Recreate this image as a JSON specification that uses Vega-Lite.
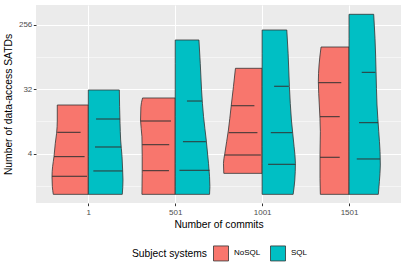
{
  "$schema": "https://vega.github.io/schema/vega-lite/v6.json",
  "width": 365,
  "height": 198,
  "autosize": "none",
  "padding": {"left": 36, "top": 5, "right": 6, "bottom": 68},
  "background": "white",
  "config": {
    "view": {"fill": "#EBEBEB", "stroke": null},
    "font": "Liberation Sans",
    "axis": {
      "domain": false,
      "labelFont": "Liberation Sans",
      "labelFontSize": 8,
      "labelColor": "#4D4D4D",
      "titleFont": "Liberation Sans",
      "titleFontSize": 10.3,
      "titleFontWeight": "normal",
      "titleColor": "#000000",
      "tickColor": "#333333",
      "tickSize": 2.7,
      "tickWidth": 1,
      "gridColor": "#FFFFFF",
      "gridWidth": 1
    },
    "legend": {
      "titleFont": "Liberation Sans",
      "titleFontSize": 10.3,
      "titleFontWeight": "normal",
      "titleColor": "#000000",
      "labelFont": "Liberation Sans",
      "labelFontSize": 8,
      "labelColor": "#000000"
    }
  },
  "datasets": {
    "outline": [
      {"c": 1, "s": "NoSQL", "v": 19.25, "w": 0.357},
      {"c": 1, "s": "NoSQL", "v": 11.85, "w": 0.357},
      {"c": 1, "s": "NoSQL", "v": 7.71, "w": 0.365},
      {"c": 1, "s": "NoSQL", "v": 5.58, "w": 0.380},
      {"c": 1, "s": "NoSQL", "v": 3.62, "w": 0.395},
      {"c": 1, "s": "NoSQL", "v": 2.62, "w": 0.411},
      {"c": 1, "s": "NoSQL", "v": 1.89, "w": 0.418},
      {"c": 1, "s": "NoSQL", "v": 1.37, "w": 0.414},
      {"c": 1, "s": "NoSQL", "v": 1.07, "w": 0.403},
      {"c": 1, "s": "SQL", "v": 31.3, "w": 0.357},
      {"c": 1, "s": "SQL", "v": 18.2, "w": 0.360},
      {"c": 1, "s": "SQL", "v": 10.65, "w": 0.365},
      {"c": 1, "s": "SQL", "v": 6.21, "w": 0.372},
      {"c": 1, "s": "SQL", "v": 3.62, "w": 0.388},
      {"c": 1, "s": "SQL", "v": 2.35, "w": 0.395},
      {"c": 1, "s": "SQL", "v": 1.70, "w": 0.399},
      {"c": 1, "s": "SQL", "v": 1.07, "w": 0.391},
      {"c": 501, "s": "NoSQL", "v": 24.15, "w": 0.376},
      {"c": 501, "s": "NoSQL", "v": 18.2, "w": 0.395},
      {"c": 501, "s": "NoSQL", "v": 11.85, "w": 0.399},
      {"c": 501, "s": "NoSQL", "v": 6.91, "w": 0.383},
      {"c": 501, "s": "NoSQL", "v": 3.62, "w": 0.380},
      {"c": 501, "s": "NoSQL", "v": 2.11, "w": 0.380},
      {"c": 501, "s": "NoSQL", "v": 1.07, "w": 0.383},
      {"c": 501, "s": "SQL", "v": 157.6, "w": 0.273},
      {"c": 501, "s": "SQL", "v": 74.2, "w": 0.288},
      {"c": 501, "s": "SQL", "v": 31.3, "w": 0.303},
      {"c": 501, "s": "SQL", "v": 13.19, "w": 0.326},
      {"c": 501, "s": "SQL", "v": 6.21, "w": 0.357},
      {"c": 501, "s": "SQL", "v": 2.92, "w": 0.383},
      {"c": 501, "s": "SQL", "v": 1.89, "w": 0.395},
      {"c": 501, "s": "SQL", "v": 1.37, "w": 0.399},
      {"c": 501, "s": "SQL", "v": 1.07, "w": 0.395},
      {"c": 1001, "s": "NoSQL", "v": 63.1, "w": 0.307},
      {"c": 1001, "s": "NoSQL", "v": 34.8, "w": 0.330},
      {"c": 1001, "s": "NoSQL", "v": 18.2, "w": 0.357},
      {"c": 1001, "s": "NoSQL", "v": 8.58, "w": 0.388},
      {"c": 1001, "s": "NoSQL", "v": 4.04, "w": 0.429},
      {"c": 1001, "s": "NoSQL", "v": 2.92, "w": 0.445},
      {"c": 1001, "s": "NoSQL", "v": 2.11, "w": 0.441},
      {"c": 1001, "s": "SQL", "v": 217.8, "w": 0.284},
      {"c": 1001, "s": "SQL", "v": 102.5, "w": 0.299},
      {"c": 1001, "s": "SQL", "v": 34.8, "w": 0.314},
      {"c": 1001, "s": "SQL", "v": 11.85, "w": 0.337},
      {"c": 1001, "s": "SQL", "v": 5.00, "w": 0.368},
      {"c": 1001, "s": "SQL", "v": 2.92, "w": 0.383},
      {"c": 1001, "s": "SQL", "v": 1.70, "w": 0.376},
      {"c": 1001, "s": "SQL", "v": 1.07, "w": 0.357},
      {"c": 1501, "s": "NoSQL", "v": 125.6, "w": 0.322},
      {"c": 1501, "s": "NoSQL", "v": 70.2, "w": 0.345},
      {"c": 1501, "s": "NoSQL", "v": 40.9, "w": 0.353},
      {"c": 1501, "s": "NoSQL", "v": 19.25, "w": 0.342},
      {"c": 1501, "s": "NoSQL", "v": 8.12, "w": 0.330},
      {"c": 1501, "s": "NoSQL", "v": 3.82, "w": 0.334},
      {"c": 1501, "s": "NoSQL", "v": 1.80, "w": 0.334},
      {"c": 1501, "s": "NoSQL", "v": 1.07, "w": 0.330},
      {"c": 1501, "s": "SQL", "v": 361.8, "w": 0.284},
      {"c": 1501, "s": "SQL", "v": 166.5, "w": 0.299},
      {"c": 1501, "s": "SQL", "v": 56.5, "w": 0.311},
      {"c": 1501, "s": "SQL", "v": 19.25, "w": 0.322},
      {"c": 1501, "s": "SQL", "v": 8.12, "w": 0.342},
      {"c": 1501, "s": "SQL", "v": 4.25, "w": 0.357},
      {"c": 1501, "s": "SQL", "v": 2.76, "w": 0.360},
      {"c": 1501, "s": "SQL", "v": 1.61, "w": 0.349},
      {"c": 1501, "s": "SQL", "v": 1.07, "w": 0.337}
    ],
    "quant": [
      {"c": 1, "s": "NoSQL", "v": 7.96, "a": 0.089, "b": 0.357},
      {"c": 1, "s": "NoSQL", "v": 3.62, "a": 0.043, "b": 0.395},
      {"c": 1, "s": "NoSQL", "v": 1.92, "a": 0.015, "b": 0.418},
      {"c": 1, "s": "SQL", "v": 12.24, "a": 0.089, "b": 0.365},
      {"c": 1, "s": "SQL", "v": 4.95, "a": 0.077, "b": 0.376},
      {"c": 1, "s": "SQL", "v": 2.28, "a": 0.058, "b": 0.395},
      {"c": 501, "s": "NoSQL", "v": 11.47, "a": 0.049, "b": 0.399},
      {"c": 501, "s": "NoSQL", "v": 5.33, "a": 0.069, "b": 0.380},
      {"c": 501, "s": "NoSQL", "v": 2.30, "a": 0.072, "b": 0.376},
      {"c": 501, "s": "SQL", "v": 21.9, "a": 0.135, "b": 0.307},
      {"c": 501, "s": "SQL", "v": 5.87, "a": 0.089, "b": 0.353},
      {"c": 501, "s": "SQL", "v": 2.33, "a": 0.049, "b": 0.395},
      {"c": 1001, "s": "NoSQL", "v": 18.8, "a": 0.089, "b": 0.357},
      {"c": 1001, "s": "NoSQL", "v": 7.86, "a": 0.054, "b": 0.383},
      {"c": 1001, "s": "NoSQL", "v": 3.82, "a": 0.015, "b": 0.429},
      {"c": 1001, "s": "SQL", "v": 35.3, "a": 0.138, "b": 0.307},
      {"c": 1001, "s": "SQL", "v": 7.86, "a": 0.100, "b": 0.349},
      {"c": 1001, "s": "SQL", "v": 2.83, "a": 0.069, "b": 0.383},
      {"c": 1501, "s": "NoSQL", "v": 39.6, "a": 0.089, "b": 0.353},
      {"c": 1501, "s": "NoSQL", "v": 13.19, "a": 0.107, "b": 0.334},
      {"c": 1501, "s": "NoSQL", "v": 3.55, "a": 0.107, "b": 0.334},
      {"c": 1501, "s": "SQL", "v": 55.4, "a": 0.146, "b": 0.303},
      {"c": 1501, "s": "SQL", "v": 10.86, "a": 0.115, "b": 0.334},
      {"c": 1501, "s": "SQL", "v": 3.36, "a": 0.089, "b": 0.357}
    ]
  },
  "layer": [
    {
      "data": {"name": "outline"},
      "transform": [
        {"calculate": "datum.c + (datum.s === 'NoSQL' ? -500 : 500) * datum.w", "as": "x"}
      ],
      "mark": {"type": "area", "orient": "horizontal", "interpolate": "monotone", "stroke": "#333333", "strokeWidth": 0.8, "fillOpacity": 1},
      "encoding": {
        "x": {
          "field": "x", "type": "quantitative", "stack": null,
          "scale": {"domain": [-300, 1800], "nice": false, "zero": false},
          "axis": {"values": [1, 501, 1001, 1501], "title": "Number of commits", "labelPadding": 2.5, "titlePadding": 3, "format": "d"}
        },
        "x2": {"field": "c"},
        "y": {
          "field": "v", "type": "quantitative",
          "scale": {"type": "log", "base": 2, "domain": [0.809, 488.8], "nice": false, "zero": false},
          "axis": {
            "values": [1.41421, 4, 11.3137, 32, 90.5097, 256],
            "title": "Number of data-access SATDs",
            "labelExpr": "indexof([4, 32, 256], datum.value) >= 0 ? '' + datum.value : ''",
            "labelPadding": 1.5,
            "titlePadding": 5,
            "gridWidth": {"condition": {"test": "indexof([4, 32, 256], datum.value) >= 0", "value": 1}, "value": 0.5},
            "tickOpacity": {"condition": {"test": "indexof([4, 32, 256], datum.value) >= 0", "value": 1}, "value": 0}
          }
        },
        "color": {
          "field": "s", "type": "nominal",
          "scale": {"domain": ["NoSQL", "SQL"], "range": ["#F8766D", "#00BFC4"]},
          "legend": {
            "title": "Subject systems",
            "orient": "none",
            "direction": "horizontal",
            "titleOrient": "left",
            "legendX": 96,
            "legendY": 240,
            "symbolType": "square",
            "symbolSize": 225,
            "symbolStrokeColor": "#333333",
            "symbolStrokeWidth": 0.8,
            "symbolOpacity": 1,
            "labelOffset": 5,
            "columnPadding": 7,
            "titlePadding": 6
          }
        },
        "detail": {"field": "c"}
      }
    },
    {
      "data": {"name": "quant"},
      "transform": [
        {"calculate": "datum.c + (datum.s === 'NoSQL' ? -500 : 500) * datum.a", "as": "xa"},
        {"calculate": "datum.c + (datum.s === 'NoSQL' ? -500 : 500) * datum.b", "as": "xb"}
      ],
      "mark": {"type": "rule", "color": "#333333", "strokeWidth": 1},
      "encoding": {
        "x": {"field": "xa", "type": "quantitative"},
        "x2": {"field": "xb"},
        "y": {"field": "v", "type": "quantitative"}
      }
    }
  ]
}
